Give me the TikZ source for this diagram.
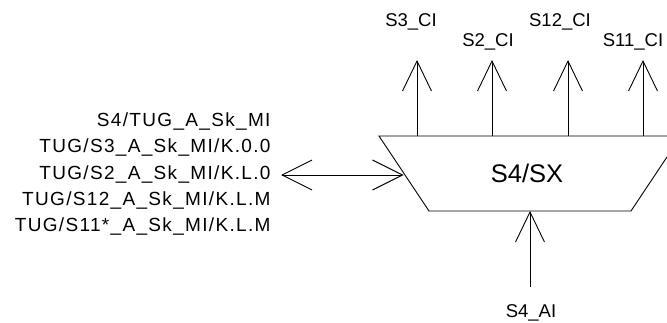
\documentclass[tikz,border=0pt]{standalone}
\usepackage{fontspec}
\setmainfont{Liberation Sans}
\newfontfamily\spacedfont{Liberation Sans}[LetterSpace=7]
\usetikzlibrary{arrows.meta}
\begin{document}
\begin{tikzpicture}[x=1pt,y=-1pt,
  line width=0.9pt,
  barb/.style={-{Straight Barb[length=30pt,width=29pt]}},
  dbarb/.style={{Straight Barb[length=30pt,width=30pt]}-{Straight Barb[length=30pt,width=30pt]}},
  toplbl/.style={anchor=base,inner sep=0pt,font=\fontsize{18.5}{20}\selectfont},
  leftlbl/.style={anchor=base east,inner sep=0pt,font=\spacedfont\fontsize{19}{21}\selectfont},
  biglbl/.style={anchor=base,inner sep=0pt,font=\fontsize{25.5}{28}\selectfont}]
\useasboundingbox (0,0) rectangle (667,323);
\clip (0,0) rectangle (667,323);
% trapezoid
\coordinate (tl) at (379,136);
\coordinate (tr) at (681,136);
\coordinate (br) at (631,211);
\coordinate (bl) at (429,211);
\draw (tl) -- (tr) -- (br) -- (bl) -- cycle;
\node[biglbl] (sx) at (527,182.7) {S4/SX};
% top outputs
\coordinate (o1) at (417,136); \coordinate (p1) at (417,60);
\coordinate (o2) at (492,136); \coordinate (p2) at (492,60);
\coordinate (o3) at (568,136); \coordinate (p3) at (568,60);
\coordinate (o4) at (643,136); \coordinate (p4) at (643,60);
\draw[barb] (o1) -- (p1);
\draw[barb] (o2) -- (p2);
\draw[barb] (o3) -- (p3);
\draw[barb] (o4) -- (p4);
\node[toplbl] (l1) at (411,26.7) {S3\_CI};
\node[toplbl] (l2) at (488,47) {S2\_CI};
\node[toplbl] (l3) at (560,26.7) {S12\_CI};
\node[toplbl] (l4) at (633,47) {S11\_CI};
% bottom input
\coordinate (ai) at (530,287);
\coordinate (ain) at (530,211);
\draw[barb] (ai) -- (ain);
\node[toplbl] (lai) at (531,317) {S4\_AI};
% left labels
\node[leftlbl] (m1) at (271,126.5) {S4/TUG\_A\_Sk\_MI};
\node[leftlbl] (m2) at (271,152.8) {TUG/S3\_A\_Sk\_MI/K.0.0};
\node[leftlbl] (m3) at (271,179.1) {TUG/S2\_A\_Sk\_MI/K.L.0};
\node[leftlbl] (m4) at (271,205.4) {TUG/S12\_A\_Sk\_MI/K.L.M};
\node[leftlbl] (m5) at (271,231.7) {TUG/S11*\_A\_Sk\_MI/K.L.M};
% bidirectional
\coordinate (la) at (281,175);
\coordinate (ra) at (403.5,175);
\draw[dbarb] (la) -- (ra);
\end{tikzpicture}
\end{document}
